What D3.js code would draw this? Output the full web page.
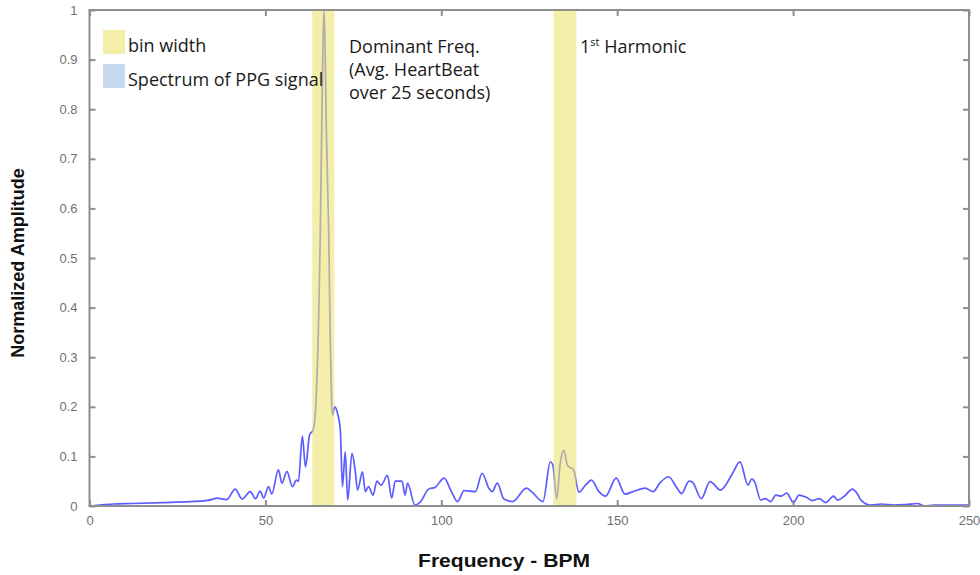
<!DOCTYPE html>
<html>
<head>
<meta charset="utf-8">
<script src="https://cdn.jsdelivr.net/npm/d3@7"></script>
<style>
  html, body { margin: 0; padding: 0; background: #fff; }
  svg { display: block; }
</style>
</head>
<body>
<svg id="chart" width="980" height="575"></svg>
<script>
// Spectrum of the PPG signal: frequency (BPM) and normalized amplitude
const freqBpm = [0, 3, 6.7, 12, 21, 28.6, 33, 35.2, 36.2, 39, 41.4, 43.4, 45.7, 47.2, 48.5, 49.5,
  50.9, 51.8, 53.7, 54.7, 56.1, 57.7, 58.8, 59.4, 60.5, 61.4, 62.6, 63.3, 63.8, 64.6, 65.6, 66.1,
  66.6, 66.9, 67.3, 68.0, 68.4, 68.8, 69.1, 69.7, 70.5, 71.3, 71.9, 72.7, 73.4, 74.6, 75.5, 76.2,
  77.6, 78.4, 79.3, 80.6, 81.7, 82.9, 84.7, 85.9, 86.9, 88.8, 89.7, 90.4, 92.5, 94, 96.4, 98.3,
  100.8, 102.8, 104.6, 106.5, 109.7, 111.6, 113.5, 114.5, 115.9, 117.8, 120.3, 124.2, 125.8, 128.9,
  131, 131.7, 132.8, 133.8, 134.8, 135.9, 137.6, 139.1, 141, 142.7, 144.8, 146.7, 149.7, 152.2,
  154.5, 158, 160.2, 162.2, 164.6, 167, 168.3, 170.4, 171.4, 173.9, 176.4, 179.4, 180.8, 182.8,
  184.9, 187.2, 188.2, 189, 190.8, 192.2, 193.6, 195.1, 196.6, 198.2, 200.1, 201.7, 203.6, 205.5,
  207.4, 209.3, 211.5, 212.6, 214.3, 216.9, 218.3, 219.3, 222.1, 225, 228.8, 232, 235.4, 237.3,
  240, 250];
const amplitude = [0, 0.002, 0.004, 0.005, 0.007, 0.009, 0.011, 0.014, 0.016, 0.013, 0.034, 0.014, 0.029, 0.015, 0.03, 0.016,
  0.039, 0.024, 0.073, 0.046, 0.07, 0.039, 0.052, 0.05, 0.141, 0.079, 0.145, 0.15, 0.16, 0.247, 0.55, 0.805,
  1.0, 0.953, 0.765, 0.55, 0.348, 0.214, 0.183, 0.2, 0.187, 0.153, 0.039, 0.109, 0.012, 0.106, 0.073, 0.032,
  0.069, 0.029, 0.039, 0.022, 0.05, 0.042, 0.062, 0.016, 0.05, 0.05, 0.022, 0.046, 0.002, 0.008, 0.034, 0.038,
  0.056, 0.03, 0.009, 0.031, 0.029, 0.066, 0.036, 0.029, 0.046, 0.014, 0.009, 0.036, 0.028, 0.009,
  0.089, 0.083, 0.015, 0.086, 0.112, 0.081, 0.073, 0.028, 0.042, 0.052, 0.029, 0.02, 0.056, 0.024,
  0.029, 0.036, 0.029, 0.047, 0.059, 0.036, 0.025, 0.05, 0.048, 0.015, 0.049, 0.032, 0.042, 0.066,
  0.089, 0.042, 0.054, 0.05, 0.012, 0.015, 0.009, 0.022, 0.02, 0.026, 0.007, 0.022, 0.018, 0.011,
  0.015, 0.007, 0.02, 0.012, 0.018, 0.034, 0.024, 0.012, 0.002, 0.004, 0.002, 0.003, 0.005, 0.0,
  0.002, 0.002];

// Highlighted frequency bins (start, end in BPM)
const binStart = [63.3, 131.9];
const binEnd = [69.6, 138.4];

// Axis ticks
const xTicks = [0, 50, 100, 150, 200, 250];
const yTicks = [0, 0.1, 0.2, 0.3, 0.4, 0.5, 0.6, 0.7, 0.8, 0.9, 1];

// Legend entries
const legendLabels = ["bin width", "Spectrum of PPG signal"];
const legendColors = ["#f3efa9", "#c6d9f0"];

const svg = d3.select("#chart");
const margin = { left: 89.5, right: 11, top: 10, bottom: 69 };
const W = 980, H = 575;

const x = d3.scaleLinear().domain([0, 250]).range([margin.left, W - margin.right]);
const y = d3.scaleLinear().domain([0, 1]).range([H - margin.bottom, margin.top]);

const points = freqBpm.map((f, i) => [f, amplitude[i]]);

// Spectrum line
const line = d3.line().x(d => x(d[0])).y(d => y(d[1])).curve(d3.curveMonotoneX);
svg.append("path")
  .datum(points)
  .attr("d", line)
  .attr("fill", "none")
  .attr("stroke", "#5c5cff")
  .attr("stroke-width", 1.7)
  .attr("stroke-linejoin", "round");

// Bin-width bands drawn over the spectrum
svg.append("g").selectAll("rect")
  .data(binStart)
  .join("rect")
  .attr("x", (d) => x(d))
  .attr("width", (d, i) => x(binEnd[i]) - x(d))
  .attr("y", y(1))
  .attr("height", y(0) - y(1))
  .attr("fill", "#ebe26f")
  .attr("fill-opacity", 0.6);

// Axes frame with inward ticks on all sides
const axisColor = "#8e8e8e";
const tickLen = 6;
const frame = svg.append("g");
frame.append("rect")
  .attr("x", x(0)).attr("y", y(1))
  .attr("width", x(250) - x(0)).attr("height", y(0) - y(1))
  .attr("fill", "none").attr("stroke", axisColor).attr("stroke-width", 2);

const xAxisBottom = d3.axisBottom(x).tickValues(xTicks).tickSize(-tickLen).tickPadding(10).tickFormat(d3.format("d"));
const xAxisTop = d3.axisTop(x).tickValues(xTicks).tickSize(-tickLen).tickFormat("");
const yAxisLeft = d3.axisLeft(y).tickValues(yTicks).tickSize(-tickLen).tickPadding(12).tickFormat(d => d === 0 || d === 1 ? d3.format("d")(d) : d3.format(".1f")(d));
const yAxisRight = d3.axisRight(y).tickValues(yTicks).tickSize(-tickLen).tickFormat("");

function styleAxis(g) {
  g.select(".domain").remove();
  g.selectAll(".tick line").attr("stroke", axisColor).attr("stroke-width", 2);
  g.selectAll(".tick text")
    .attr("fill", "#707070")
    .attr("font-family", "'Liberation Sans', Arial, sans-serif")
    .attr("font-size", 13);
}

svg.append("g").attr("transform", `translate(0,${y(0)})`).call(xAxisBottom).call(styleAxis);
svg.append("g").attr("transform", `translate(0,${y(1)})`).call(xAxisTop).call(styleAxis);
svg.append("g").attr("transform", `translate(${x(0)},0)`).call(yAxisLeft).call(styleAxis);
svg.append("g").attr("transform", `translate(${x(250)},0)`).call(yAxisRight).call(styleAxis);

// Axis titles
svg.append("text")
  .attr("transform", "translate(504,567) scale(1.17,1)")
  .attr("text-anchor", "middle")
  .attr("font-family", "'Liberation Sans', Arial, sans-serif")
  .attr("font-weight", "bold")
  .attr("font-size", 18)
  .attr("fill", "#111")
  .text("Frequency - BPM");

svg.append("text")
  .attr("transform", `translate(24,${263}) rotate(-90)`)
  .attr("text-anchor", "middle")
  .attr("font-family", "'Liberation Sans', Arial, sans-serif")
  .attr("font-weight", "bold")
  .attr("font-size", 18)
  .attr("fill", "#111")
  .text("Normalized Amplitude");

// Legend
const textFont = "'Open Sans', Lato, sans-serif";
const legend = svg.append("g");
legend.selectAll("rect")
  .data(legendLabels)
  .join("rect")
  .attr("x", 103)
  .attr("y", (d, i) => 30 + i * 34)
  .attr("width", 22)
  .attr("height", 24)
  .attr("fill", (d, i) => legendColors[i]);
legend.selectAll("text")
  .data(legendLabels)
  .join("text")
  .attr("x", 128)
  .attr("y", (d, i) => 52 + i * 34)
  .attr("font-family", textFont)
  .attr("font-size", 18)
  .attr("fill", "#1a1a1a")
  .text(d => d);

// Annotations for the bins
const note = svg.append("text")
  .attr("font-family", textFont)
  .attr("font-size", 18)
  .attr("fill", "#1a1a1a");
["Dominant Freq.", "(Avg. HeartBeat", "over 25 seconds)"].forEach((t, i) => {
  note.append("tspan").attr("x", 349).attr("y", 53 + i * 23).text(t);
});

const harm = svg.append("text")
  .attr("x", 580).attr("y", 53)
  .attr("font-family", textFont)
  .attr("font-size", 18)
  .attr("fill", "#1a1a1a");
harm.append("tspan").text("1");
harm.append("tspan").attr("font-size", 11).attr("dy", -7).text("st");
harm.append("tspan").attr("dy", 7).text(" Harmonic");
</script>
</body>
</html>
